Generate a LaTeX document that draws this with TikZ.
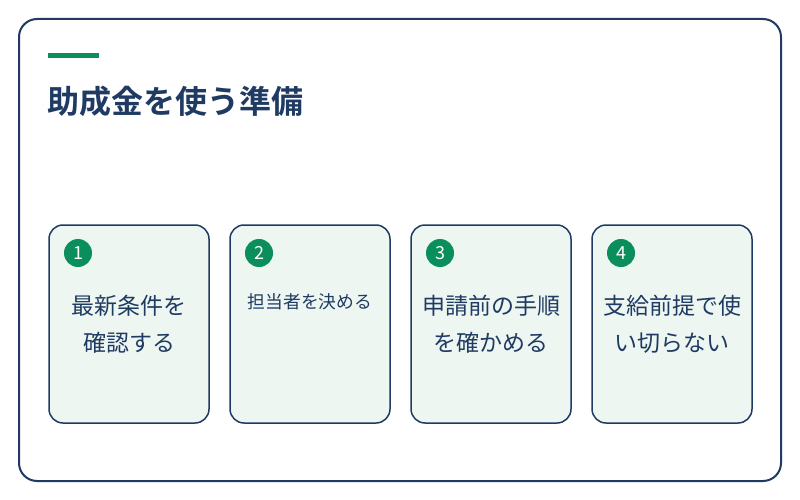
\documentclass[tikz,border=0pt]{standalone}
\usepackage{fontspec}
\setmainfont{Noto Sans CJK JP}
\newfontfamily\cjk{Noto Sans CJK JP}
\newfontfamily\cjkb{Noto Sans CJK JP Bold}
\definecolor{navy}{HTML}{1F3B63}
\definecolor{grn}{HTML}{0A8F5C}
\definecolor{cardfill}{HTML}{EEF6F1}
\begin{document}
\begin{tikzpicture}[x=1pt,y=-1pt,
  frame/.style={draw=navy,line width=2pt,rounded corners=18pt,fill=white},
  card/.style={draw=navy,line width=1.5pt,rounded corners=14pt,fill=cardfill,minimum width=160pt,minimum height=198pt,inner sep=0pt},
  badge/.style={circle,fill=grn,minimum size=28pt,inner sep=0pt,text=white,font=\cjk\fontsize{18}{18}\selectfont},
  cardtext/.style={text=navy,align=center,font=\cjk\fontsize{23}{37}\selectfont},
  smalltext/.style={text=navy,align=center,font=\cjk\fontsize{17.8}{20}\selectfont}]
\useasboundingbox (0,0) rectangle (800,500);
\node[frame,minimum width=762pt,minimum height=462pt,inner sep=0pt] (outer) at (400,250) {};
\fill[grn] (48,53) rectangle (99,58);
\node[anchor=west,text=navy,font=\cjkb\fontsize{32}{32}\selectfont,inner sep=0pt] (title) at (47,101) {助成金を使う準備};
\node[card] (c1) at (129,324) {};
\node[card] (c2) at (310,324) {};
\node[card] (c3) at (491,324) {};
\node[card] (c4) at (672,324) {};
\node[badge] (b1) at (78,253) {1};
\node[badge] (b2) at (259,253) {2};
\node[badge] (b3) at (440,253) {3};
\node[badge] (b4) at (621,253) {4};
\node[cardtext] (t1) at (129,324) {最新条件を\\確認する};
\node[smalltext] (t2) at (310,302) {担当者を決める};
\node[cardtext] (t3) at (491,324) {申請前の手順\\を確かめる};
\node[cardtext] (t4) at (672,324) {支給前提で使\\い切らない};
\end{tikzpicture}
\end{document}
